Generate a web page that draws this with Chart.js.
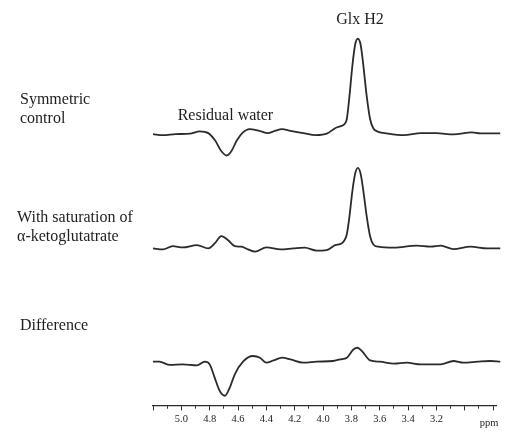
<!DOCTYPE html>
<html>
<head>
<meta charset="utf-8">
<script src="https://cdn.jsdelivr.net/npm/chart.js@4.4.1/dist/chart.umd.min.js"></script>
<style>
  html, body { margin: 0; padding: 0; background: #ffffff; }
  #wrap { width: 509px; height: 432px; position: relative; }
</style>
</head>
<body>
<div id="wrap"><canvas id="c" width="509" height="432"></canvas></div>
<script>
// ---- data (chemical shift in ppm, intensity in arbitrary units) ----
const controlPpm = [5.20, 5.13, 5.04, 4.94, 4.87, 4.81, 4.76, 4.72, 4.68, 4.645, 4.61, 4.565, 4.52, 4.45, 4.39, 4.34, 4.29, 4.23, 4.14, 4.05, 3.97, 3.915, 3.87, 3.85, 3.833, 3.814, 3.794, 3.774, 3.755, 3.735, 3.715, 3.692, 3.668, 3.645, 3.61, 3.55, 3.43, 3.31, 3.20, 3.08, 2.95, 2.89, 2.75];
const controlVal = [0, -1, 0, 0.5, 2.7, 1, -6.7, -16.7, -21.5, -16.7, -6.7, 1.7, 5, 3.3, 1, 3.3, 5, 3.3, 1, -1, 0.7, 6, 8.3, 10, 15, 38, 68, 90, 96, 90, 68, 38, 15, 5.7, 2.3, 0.7, -1, 1, 1, -0.3, 1.7, 0.7, 0.7];

const saturationPpm = [5.20, 5.13, 5.06, 4.99, 4.89, 4.81, 4.765, 4.717, 4.67, 4.623, 4.575, 4.53, 4.48, 4.40, 4.30, 4.21, 4.13, 4.045, 3.975, 3.915, 3.87, 3.85, 3.833, 3.814, 3.794, 3.774, 3.755, 3.735, 3.715, 3.692, 3.668, 3.645, 3.61, 3.50, 3.34, 3.24, 3.17, 3.08, 2.96, 2.84, 2.75];
const saturationVal = [0, -1, 2.3, 1, 3.3, 0, 5, 12.3, 8.3, 2.3, 1.7, -1, -3.3, 1, -1, 0, 0.7, -2.3, -1.7, 3.3, 5, 8, 14, 32, 57, 75, 81, 75, 57, 32, 12, 4, 1.7, 0.7, 2.7, 1.7, 2.7, -0.7, 1.7, 0, 0];

const differencePpm = [5.20, 5.155, 5.08, 4.99, 4.89, 4.835, 4.80, 4.765, 4.73, 4.693, 4.658, 4.623, 4.565, 4.495, 4.445, 4.40, 4.35, 4.29, 4.23, 4.14, 4.045, 3.93, 3.88, 3.832, 3.786, 3.757, 3.726, 3.667, 3.60, 3.50, 3.41, 3.31, 3.17, 3.08, 3.01, 2.91, 2.82, 2.75];
const differenceVal = [0, 0, -3.3, -2.7, -3.7, 0, -2.7, -16, -29.3, -34.3, -26, -12.7, 0, 5.7, 4, -1, 1.3, 4, 2.3, -1, 0, 0.7, 2.3, 4, 12.3, 14, 10.7, 1.3, 0, -2, -1, -2.7, -2.7, 0.7, -1, 0, 0.7, 0];

const tickValues = [5.2, 5.1, 5.0, 4.9, 4.8, 4.7, 4.6, 4.5, 4.4, 4.3, 4.2, 4.1, 4.0, 3.9, 3.8, 3.7, 3.6, 3.5, 3.4, 3.3, 3.2, 3.1, 3.0, 2.9, 2.8];
const tickLabels = ['5.0', '4.8', '4.6', '4.4', '4.2', '4.0', '3.8', '3.6', '3.4', '3.2'];
const majorTicks = ['5.2', '5.0', '4.8', '4.6', '4.4', '4.2', '4.0', '3.8', '3.6', '3.4', '3.2', '3.0', '2.8'];

const traceNames = ['Symmetric control', 'With saturation of α-ketoglutatrate', 'Difference'];
const sideLabels = [['Symmetric', 'control'], ['With saturation of', 'α-ketoglutatrate'], ['Difference']];
const peakLabel = 'Glx H2';
const waterLabel = 'Residual water';
const unitLabel = 'ppm';

// ---- layout / style ----
const traceOffsets = [273, 158, 44];
const INK = '#2b2b2b';
const SERIF = '"Liberation Serif", "Times New Roman", serif';

function toPoints(ppm, val, off) {
  return ppm.map((p, i) => ({ x: p, y: val[i] + off }));
}

const series = [
  [controlPpm, controlVal],
  [saturationPpm, saturationVal],
  [differencePpm, differenceVal]
];

const datasets = series.map((s, k) => ({
  label: traceNames[k],
  data: toPoints(s[0], s[1], traceOffsets[k]),
  showLine: true,
  borderColor: INK,
  borderWidth: 1.8,
  pointRadius: 0,
  fill: false,
  cubicInterpolationMode: 'monotone',
  clip: false
}));

const textPlugin = {
  id: 'texts',
  afterDraw(chart) {
    const ctx = chart.ctx;
    const xs = chart.scales.x;
    ctx.save();
    ctx.fillStyle = '#1e1e1e';
    ctx.textBaseline = 'alphabetic';
    ctx.font = '16px ' + SERIF;
    // side labels
    const sideX = [20, 17, 20];
    const sideY = [104, 222, 330];
    sideLabels.forEach((lines, k) => {
      lines.forEach((t, j) => ctx.fillText(t, sideX[k], sideY[k] + j * 19));
    });
    // peak annotations
    ctx.textAlign = 'center';
    ctx.fillText(peakLabel, xs.getPixelForValue(3.74), 24);
    ctx.textAlign = 'left';
    ctx.fillText(waterLabel, xs.getPixelForValue(5.026), 120);
    // unit
    ctx.font = '10.5px ' + SERIF;
    ctx.textAlign = 'center';
    ctx.fillText(unitLabel, 489, 426);
    ctx.restore();
  }
};

new Chart(document.getElementById('c'), {
  type: 'scatter',
  data: { datasets },
  options: {
    responsive: false,
    animation: false,
    events: [],
    layout: { padding: { left: 153, right: 13, top: 0, bottom: 3 } },
    plugins: { legend: { display: false }, tooltip: { enabled: false } },
    scales: {
      x: {
        type: 'linear',
        reverse: true,
        min: 2.78,
        max: 5.2,
        afterBuildTicks: (scale) => { scale.ticks = tickValues.map(v => ({ value: v })); },
        ticks: {
          autoSkip: false,
          maxRotation: 0,
          padding: 3,
          color: '#1e1e1e',
          font: { family: SERIF, size: 10.5 },
          callback: (v) => { const s = Number(v).toFixed(1); return tickLabels.includes(s) ? s : ''; }
        },
        grid: {
          drawOnChartArea: false,
          tickLength: 5,
          tickWidth: 1,
          tickColor: INK,
          tickBorderDash: (ctx) => {
            const v = ctx.tick ? Number(ctx.tick.value).toFixed(1) : '';
            return majorTicks.includes(v) ? [] : [2.5, 20];
          }
        },
        border: { display: true, color: INK, width: 1.2 }
      },
      y: {
        display: false,
        min: 0,
        max: 408
      }
    }
  },
  plugins: [textPlugin]
});
</script>
</body>
</html>
